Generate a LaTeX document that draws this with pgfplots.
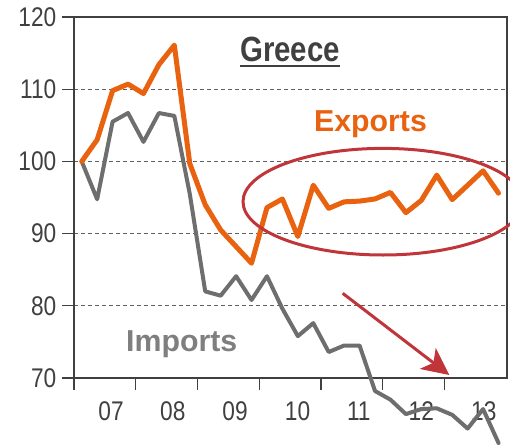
\documentclass[border=0pt]{standalone}
\usepackage{fontspec}
\setmainfont{Liberation Sans}
\newfontfamily\narrowfont{Liberation Sans}[FakeStretch=0.84]
\usepackage{pgfplots}
\pgfplotsset{compat=1.18}
\usetikzlibrary{arrows.meta}
\definecolor{expo}{HTML}{E8620F}
\definecolor{impo}{HTML}{6E6E6E}
\definecolor{impotxt}{HTML}{7F7F7F}
\definecolor{annot}{HTML}{C0353A}
\definecolor{axgray}{HTML}{404040}
\definecolor{gridgray}{HTML}{606060}

\pgfplotstableread{
q exports imports
0 100.0 100.0
1 103.0 94.75
2 109.8 105.5
3 110.7 106.7
4 109.4 102.7
5 113.4 106.7
6 116.1 106.3
7 99.7 95.5
8 94.0 82.0
9 90.5 81.4
10 88.2 84.1
11 85.9 80.8
12 93.6 84.1
13 94.8 79.6
14 89.6 75.8
15 96.7 77.6
16 93.5 73.6
17 94.4 74.5
18 94.5 74.5
19 94.8 68.2
20 95.7 67.0
21 92.9 65.0
22 94.6 65.7
23 98.1 65.8
24 94.7 64.9
25 96.7 63.0
26 98.7 65.7
27 95.6 61.0
}\greece

\begin{document}
\begin{tikzpicture}[x=1pt,y=1pt]
\useasboundingbox (0,0) rectangle (510,445);
\begin{axis}[
  at={(74pt,67pt)}, anchor=south west,
  scale only axis, width=433pt, height=361pt,
  xmin=-0.5, xmax=27.55, ymin=70, ymax=120,
  clip=false,
  axis line style={draw=axgray, line width=1.1pt},
  tick pos=left, tick align=outside,
  major tick length=11.5pt,
  tick style={draw=axgray, line width=1.1pt},
  ytick={70,80,90,100,110,120},
  yticklabels={70,80,90,100,110,120},
  xtick={-0.5,3.5,7.5,11.5,15.5,19.5,23.5},
  xticklabels={},
  extra x ticks={1.9,5.9,9.93,13.98,17.95,22.0,26.05},
  extra x tick labels={07,08,09,10,11,12,13},
  extra x tick style={major tick length=0pt},
  ymajorgrids=true,
  grid style={draw=gridgray, line width=0.8pt, dash pattern=on 4pt off 3pt},
  yticklabel style={font=\narrowfont\fontsize{27}{27}\selectfont, text=axgray, anchor=east, inner sep=0pt, xshift=-6pt},
  xticklabel style={font=\narrowfont\fontsize{27}{27}\selectfont, text=axgray, anchor=north, inner sep=0pt, yshift=-23.7pt},
]
\addplot[draw=impo, line width=4pt, line join=round, line cap=round] table[x=q, y=imports] {\greece};
\addplot[draw=expo, line width=5pt, line join=round, line cap=round] table[x=q, y=exports] {\greece};
\end{axis}
% annotations
\draw[annot, line width=3pt] (383,243.3) ellipse [x radius=140, y radius=53.3];
\draw[annot, line width=3pt, -{Stealth[length=27pt, width=26pt, inset=7pt]}] (342.7,151.7) -- (449.3,70);
\node[anchor=base, inner sep=0pt, text=axgray, font=\narrowfont\bfseries\fontsize{35}{35}\selectfont] at (290,383.3) {Greece};
\draw[axgray, line width=2pt] (240,379) -- (340,379);
\node[anchor=base, inner sep=0pt, text=expo, font=\bfseries\fontsize{30.3}{30.3}\selectfont] at (370.5,313.3) {Exports};
\node[anchor=base, inner sep=0pt, text=impotxt, font=\bfseries\fontsize{30.3}{30.3}\selectfont] at (181.7,93.3) {Imports};
\end{tikzpicture}
\end{document}
